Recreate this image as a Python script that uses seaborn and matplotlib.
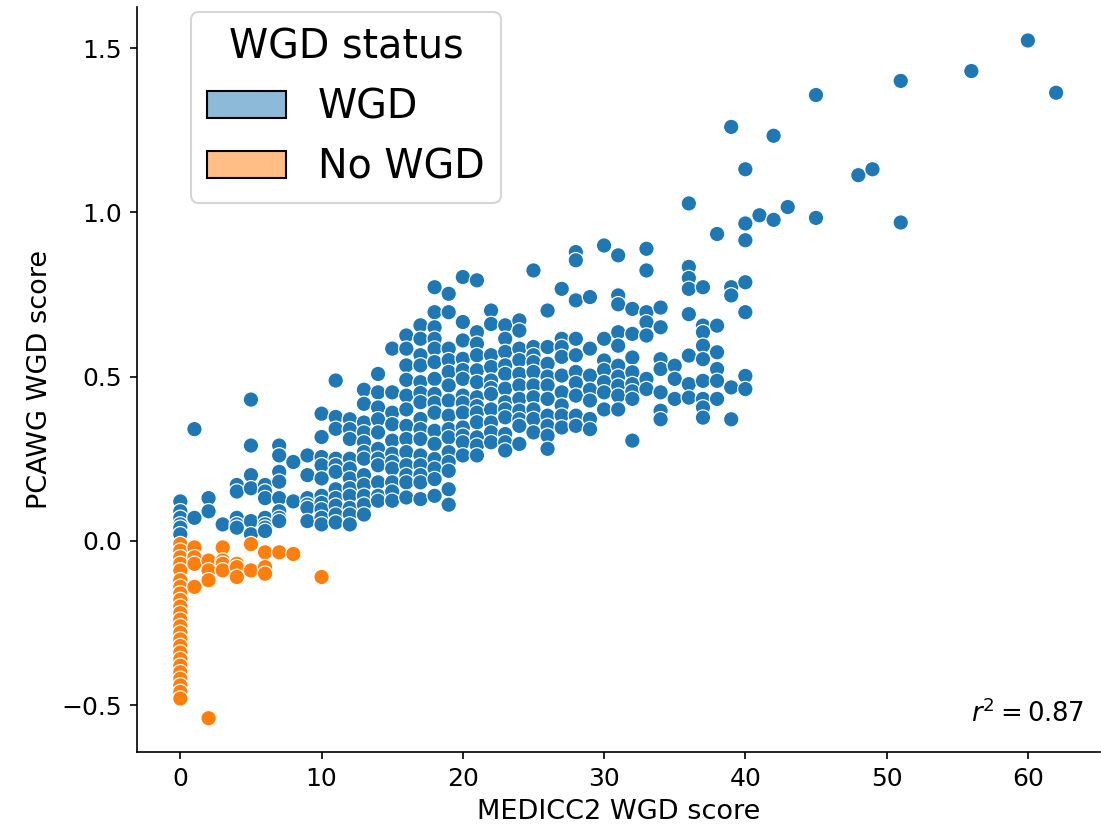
import pandas as pd
import matplotlib
matplotlib.use("Agg")
import matplotlib.pyplot as plt
import matplotlib.patches as mpatches
import seaborn as sns

# MEDICC2 score -> PCAWG scores, WGD samples
wgd_by_score = {
    0: [0.12, 0.09, 0.07, 0.05, 0.04, 0.02],
    1: [0.34, 0.07],
    2: [0.13, 0.09],
    3: [0.05],
    4: [0.17, 0.15, 0.07, 0.05, 0.04],
    5: [0.43, 0.29, 0.20, 0.16, 0.06, 0.02],
    6: [0.17, 0.15, 0.13, 0.07, 0.05, 0.04, 0.03],
    7: [0.29, 0.26, 0.21, 0.18, 0.13, 0.09, 0.07, 0.06],
    8: [0.24, 0.12],
    9: [0.26, 0.20, 0.13, 0.11, 0.10, 0.06],
    10: [0.387, 0.316, 0.255, 0.23, 0.19, 0.137, 0.115, 0.096, 0.07, 0.05],
    11: [0.488, 0.377, 0.341, 0.25, 0.23, 0.21, 0.157, 0.13, 0.107, 0.08, 0.056],
    12: [0.37, 0.34, 0.31, 0.25, 0.22, 0.19, 0.16, 0.137, 0.10, 0.08, 0.05],
    13: [0.46, 0.417, 0.36, 0.33, 0.30, 0.27, 0.25, 0.20, 0.17, 0.137, 0.11, 0.08],
    14: [0.508, 0.452, 0.406, 0.37, 0.33, 0.28, 0.25, 0.23, 0.178, 0.137, 0.122],
    15: [0.585, 0.452, 0.39, 0.355, 0.305, 0.265, 0.24, 0.22, 0.178, 0.15, 0.122],
    16: [0.625, 0.585, 0.534, 0.49, 0.442, 0.40, 0.35, 0.31, 0.27, 0.23, 0.20, 0.178, 0.132],
    17: [0.656, 0.615, 0.565, 0.534, 0.483, 0.45, 0.422, 0.371, 0.34, 0.31, 0.26, 0.23, 0.20, 0.178, 0.127],
    18: [0.772, 0.696, 0.65, 0.615, 0.585, 0.544, 0.493, 0.447, 0.42, 0.39, 0.335, 0.295, 0.249, 0.22, 0.188, 0.137],
    19: [0.752, 0.696, 0.585, 0.55, 0.514, 0.473, 0.427, 0.381, 0.34, 0.315, 0.27, 0.24, 0.213, 0.157, 0.11],
    20: [0.803, 0.666, 0.61, 0.554, 0.52, 0.493, 0.442, 0.42, 0.39, 0.345, 0.32, 0.30, 0.26],
    21: [0.793, 0.635, 0.60, 0.565, 0.519, 0.483, 0.437, 0.41, 0.39, 0.361, 0.315, 0.29, 0.26],
    22: [0.701, 0.66, 0.565, 0.529, 0.488, 0.465, 0.447, 0.40, 0.36, 0.33, 0.30],
    23: [0.656, 0.615, 0.575, 0.534, 0.508, 0.463, 0.422, 0.40, 0.376, 0.325, 0.30, 0.275],
    24: [0.671, 0.64, 0.585, 0.55, 0.508, 0.473, 0.432, 0.396, 0.37, 0.35, 0.295],
    25: [0.823, 0.59, 0.565, 0.544, 0.514, 0.473, 0.437, 0.40, 0.371, 0.33],
    26: [0.701, 0.59, 0.539, 0.50, 0.473, 0.432, 0.381, 0.35, 0.32, 0.28],
    27: [0.767, 0.615, 0.59, 0.56, 0.503, 0.452, 0.412, 0.381, 0.345],
    28: [0.879, 0.854, 0.732, 0.615, 0.565, 0.514, 0.48, 0.442, 0.381, 0.35],
    29: [0.742, 0.585, 0.503, 0.46, 0.427, 0.371, 0.34],
    30: [0.899, 0.615, 0.549, 0.52, 0.483, 0.452, 0.40],
    31: [0.869, 0.747, 0.72, 0.635, 0.594, 0.533, 0.50, 0.472, 0.442, 0.40],
    32: [0.706, 0.63, 0.558, 0.513, 0.477, 0.455, 0.432, 0.305],
    33: [0.889, 0.823, 0.696, 0.665, 0.625, 0.493, 0.462],
    34: [0.71, 0.65, 0.553, 0.523, 0.452, 0.396, 0.37],
    35: [0.533, 0.493, 0.432],
    36: [1.027, 0.834, 0.80, 0.767, 0.69, 0.564, 0.477, 0.436],
    37: [0.772, 0.655, 0.635, 0.594, 0.553, 0.487, 0.432, 0.406, 0.375],
    38: [0.934, 0.655, 0.574, 0.523, 0.487, 0.432],
    39: [1.26, 0.772, 0.747, 0.467, 0.37],
    40: [1.131, 0.966, 0.915, 0.787, 0.696, 0.502, 0.462],
    41: [0.991],
    42: [1.233, 0.977],
    43: [1.016],
    45: [1.357, 0.983],
    48: [1.113],
    49: [1.131],
    51: [1.40, 0.969],
    56: [1.43],
    60: [1.523],
    62: [1.364],
}

# No WGD samples
nowgd_by_score = {
    0: [-0.01, -0.03, -0.05, -0.07, -0.09, -0.12, -0.14, -0.16, -0.18, -0.20,
        -0.22, -0.24, -0.26, -0.28, -0.30, -0.32, -0.34, -0.36, -0.38, -0.40,
        -0.42, -0.44, -0.46, -0.48],
    1: [-0.02, -0.05, -0.07, -0.14],
    2: [-0.06, -0.09, -0.12, -0.54],
    3: [-0.02, -0.06, -0.07, -0.09],
    4: [-0.07, -0.08, -0.11],
    5: [-0.01, -0.09],
    6: [-0.035, -0.08, -0.10],
    7: [-0.035],
    8: [-0.04],
    10: [-0.11],
}

r2_text = r"$r^2 = 0.87$"

rows = []
for status, table in [("WGD", wgd_by_score), ("No WGD", nowgd_by_score)]:
    for score, vals in table.items():
        for v in vals:
            rows.append({"MEDICC2": score, "PCAWG": v, "status": status})
df = pd.DataFrame(rows)

sns.set_style("ticks")
plt.rcParams.update({"text.color": "black", "axes.labelcolor": "black",
                     "xtick.color": "black", "ytick.color": "black",
                     "axes.edgecolor": "black"})
colors = {"WGD": "#1f77b4", "No WGD": "#ff7f0e"}

fig, ax = plt.subplots(figsize=(7.34, 5.547), dpi=150)
fig.subplots_adjust(left=0.124, right=0.999, bottom=0.096, top=0.992)

sns.scatterplot(data=df, x="MEDICC2", y="PCAWG", hue="status",
                palette=colors, s=55, legend=False, ax=ax)

ax.set_xlabel("MEDICC2 WGD score", fontsize=13)
ax.set_ylabel("PCAWG WGD score", fontsize=13)
ax.tick_params(labelsize=12)
ax.set_yticks([-0.5, 0.0, 0.5, 1.0, 1.5])
ax.set_xticks([0, 10, 20, 30, 40, 50, 60])
sns.despine(ax=ax)

ax.text(0.984, 0.032, r2_text, transform=ax.transAxes, ha="right",
        va="bottom", fontsize=12.5)

handles = [mpatches.Patch(facecolor=(0.122, 0.467, 0.706, 0.5), edgecolor="black", label="WGD"),
           mpatches.Patch(facecolor=(1.0, 0.498, 0.055, 0.5), edgecolor="black", label="No WGD")]
ax.legend(handles=handles, title="WGD status", loc="upper left",
          bbox_to_anchor=(0.057, 0.993), borderaxespad=0, fontsize=19,
          title_fontsize=19)

plt.savefig("out.png", dpi=150)
